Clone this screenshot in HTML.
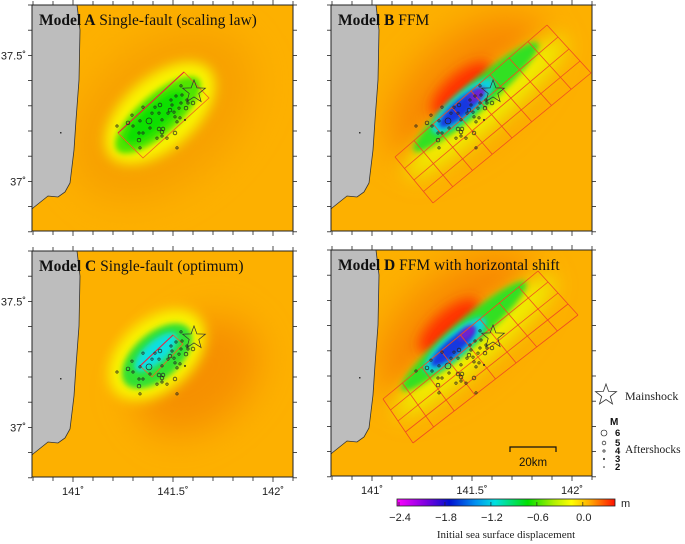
<!DOCTYPE html>
<html><head><meta charset="utf-8"><style>
html,body{margin:0;padding:0;background:#fff;}
svg{display:block;}
.sans{font-family:"Liberation Sans",sans-serif;}
.serif{font-family:"Liberation Serif",serif;}
</style></head><body>
<svg id="fig" width="685" height="544" viewBox="0 0 685 544" xmlns="http://www.w3.org/2000/svg">
<defs>
<filter id="b2" x="-50%" y="-50%" width="200%" height="200%"><feGaussianBlur stdDeviation="2"/></filter>
<filter id="b3" x="-50%" y="-50%" width="200%" height="200%"><feGaussianBlur stdDeviation="3"/></filter>
<filter id="b6" x="-50%" y="-50%" width="200%" height="200%"><feGaussianBlur stdDeviation="6"/></filter>
<filter id="b10" x="-50%" y="-50%" width="200%" height="200%"><feGaussianBlur stdDeviation="10"/></filter>
<filter id="b18" x="-80%" y="-80%" width="260%" height="260%"><feGaussianBlur stdDeviation="18"/></filter>
<clipPath id="pclip"><rect x="0" y="0" width="261" height="226"/></clipPath>
<linearGradient id="cbar" x1="0" x2="1" y1="0" y2="0">
<stop offset="0" stop-color="#ff00ff"/>
<stop offset="0.13" stop-color="#8000e0"/>
<stop offset="0.24" stop-color="#0010d0"/>
<stop offset="0.36" stop-color="#0090f0"/>
<stop offset="0.45" stop-color="#00e0e0"/>
<stop offset="0.6" stop-color="#00e000"/>
<stop offset="0.72" stop-color="#b0f000"/>
<stop offset="0.8" stop-color="#ffff00"/>
<stop offset="0.88" stop-color="#ffb000"/>
<stop offset="1" stop-color="#ff1000"/>
</linearGradient>
</defs>
</svg>
<script>
// ---- data ----
const asLon=[141.220,141.275,141.295,141.300,141.335,141.330,141.350,141.330,141.335,141.380,141.385,141.350,141.395,141.410,141.435,141.430,141.445,141.430,141.450,141.445,141.420,141.445,141.470,141.475,141.485,141.495,141.505,141.510,141.520,141.530,141.535,141.540,141.545,141.510,141.520,141.565,141.575,141.570,141.600,141.540,141.515,141.490,141.560];
const asLat=[37.220,37.232,37.263,37.220,37.240,37.192,37.192,37.164,37.133,37.240,37.212,37.295,37.271,37.295,37.303,37.271,37.244,37.208,37.208,37.196,37.172,37.180,37.172,37.271,37.283,37.303,37.275,37.256,37.236,37.291,37.252,37.311,37.343,37.192,37.133,37.291,37.311,37.323,37.311,37.379,37.339,37.323,37.244];
const asMag=[4,5,4,4,4,4,4,5,4,6,4,4,4,4,5,4,4,5,5,5,4,4,4,4,5,4,4,4,4,4,4,4,4,5,4,5,4,4,5,4,4,4,3];
const mainLon=141.605, mainLat=37.355;
const lonTicks=[141,141.5,142];
const lonLabels=["141˚","141.5˚","142˚"];
const latTicks=[37,37.5];
const latLabels=["37˚","37.5˚"];
const cbTicks=[-2.4,-1.8,-1.2,-0.6,0.0];
const cbLabels=["−2.4","−1.8","−1.2","−0.6","0.0"];
const legendMags=[6,5,4,3,2];

const NS="http://www.w3.org/2000/svg";
const svg=document.getElementById('fig');
function mk(tag,attrs,parent){const e=document.createElementNS(NS,tag);for(const k in attrs)e.setAttribute(k,attrs[k]);(parent||svg).appendChild(e);return e;}
const xOf=lon=>(lon-140.795)*200;
const yOf=lat=>(37.70-lat)*252;
const rOf=m=>0.45*Math.pow(1.6,m-2);
function starPts(cx,cy,R,r){let p=[];for(let i=0;i<10;i++){const a=-Math.PI/2+i*Math.PI/5;const rr=i%2?r:R;p.push((cx+rr*Math.cos(a)).toFixed(1)+','+(cy+rr*Math.sin(a)).toFixed(1));}return p.join(' ');}

const panels=[
 {id:'a',ox:32,oy:5,bold:'Model A',rest:' Single-fault (scaling law)',lonLab:false,
  blobs:[[130,110,105,70,'#f7a000','b18'],[128,108,66,36,'#f8f400','b6'],[126,110,54,20,'#50e400','b3'],[123,112,38,12,'#10e000','b3']],
  rect:[[86,128],[152,67],[177,93],[111,153]],grid:null},
 {id:'b',ox:331,oy:5,bold:'Model B',rest:' FFM',lonLab:false,
  blobs:[[135,82,95,48,'#f88800','b18'],[155,102,105,22,'#f0ee00','b10'],[130,84,38,15,'#ff3000','b6'],[145,92,82,14,'#30e020','b3'],[132,101,40,12,'#10d0e0','b3'],[130,103,28,8,'#1838e0','b2'],[146,90,10,5,'#7020d0','b2']],
  rect:null,grid:[[64,152],[216,20],[260,68],[102,198]]},
 {id:'c',ox:32,oy:251,bold:'Model C',rest:' Single-fault (optimum)',lonLab:true,
  blobs:[[165,125,70,50,'#f69000','b18'],[125,104,56,36,'#f8f400','b6'],[125,105,42,23,'#30e030','b3'],[124,101,27,11,'#10e0e0','b3']],
  rect:[[108,115],[141,84],[151,93],[120,126]],grid:null},
 {id:'d',ox:331,oy:250,bold:'Model D',rest:' FFM with horizontal shift',lonLab:true,
  blobs:[[124,75,95,48,'#f88800','b18'],[144,96,105,22,'#f0ee00','b10'],[118,76,38,15,'#ff3000','b6'],[133,86,82,14,'#30e020','b3'],[124,95,40,12,'#10d0e0','b3'],[122,97,28,8,'#1838e0','b2'],[136,83,10,5,'#7020d0','b2']],
  rect:null,grid:[[52,149],[207,21],[247,65],[82,193]]}
];
const ang=-41;
const land="0,0 45,0 48,25 47,75 44,115 42,145 38,178 33,187 26,192 16,191 11,195 1,203 0,204";

panels.forEach(p=>{
 const g=mk('g',{transform:`translate(${p.ox},${p.oy})`});
 
 
 const inner=mk('g',{'clip-path':'url(#pclip)'},g);
 const bg=mk('rect',{x:0,y:0,width:261,height:226,fill:'#fdb000'},inner);
 
 
 p.blobs.forEach(b=>{
  const e=mk('ellipse',{cx:b[0],cy:b[1],rx:b[2],ry:b[3],fill:b[4],filter:'url(#'+b[5]+')',transform:`rotate(${ang} ${b[0]} ${b[1]})`},inner);
  
  
 });
 const ld=mk('polygon',{points:land,fill:'#bdbdbd',stroke:'#333','stroke-width':0.8},inner);
 
 
 mk('rect',{x:28,y:127,width:1.5,height:1.5,fill:'#333'},inner);
 if(p.rect){
  const r=p.rect;
  const rp=mk('polygon',{points:r.map(q=>q.join(',')).join(' '),fill:'none',stroke:'#f06020','stroke-width':0.8},inner);
  
  
  mk('line',{x1:r[0][0],y1:r[0][1],x2:r[1][0],y2:r[1][1],stroke:'#e82040','stroke-width':1},inner);
 }
 if(p.grid){
  const [L,T,R,B]=p.grid;const nc=8,nr=4;
  const gg=mk('g',{stroke:'#f04a20','stroke-width':0.8,fill:'none'},inner);
  
  
  const lerp=(a,b,t)=>[a[0]+(b[0]-a[0])*t,a[1]+(b[1]-a[1])*t];
  for(let i=0;i<=nc;i++){const a=lerp(L,T,i/nc),b=lerp(B,R,i/nc);mk('line',{x1:a[0],y1:a[1],x2:b[0],y2:b[1]},gg);}
  for(let j=0;j<=nr;j++){const a=lerp(L,B,j/nr),b=lerp(T,R,j/nr);mk('line',{x1:a[0],y1:a[1],x2:b[0],y2:b[1]},gg);}
 }
 const ag=mk('g',{fill:'none',stroke:'#222','stroke-width':0.7},inner);
 
 
 for(let i=0;i<asLon.length;i++){
  const c=mk('circle',{cx:xOf(asLon[i]).toFixed(1),cy:yOf(asLat[i]).toFixed(1),r:rOf(asMag[i]).toFixed(2)},ag);
  
  
 }
 const st=mk('polygon',{points:starPts(xOf(mainLon),yOf(mainLat),12,5),fill:'none',stroke:'#333','stroke-width':0.7},inner);
 
 
 const fr=mk('rect',{x:0,y:0,width:261,height:226,fill:'none',stroke:'#222','stroke-width':1},g);
 
 
 const tg=mk('g',{stroke:'#222','stroke-width':0.8},g);
 
 
 for(let k=0;k<=13;k++){const x=xOf(140.8+k*0.1);const L=(k%5==2)?5:4;
  mk('line',{x1:x,y1:0,x2:x,y2:-L},tg);mk('line',{x1:x,y1:226,x2:x,y2:226+L},tg);}
 for(let k=0;k<=9;k++){const y=yOf(36.8+k*0.1);
  mk('line',{x1:0,y1:y,x2:-4,y2:y},tg);mk('line',{x1:261,y1:y,x2:265,y2:y},tg);}
 if(p.lonLab){lonTicks.forEach((v,i)=>{const t=mk('text',{x:xOf(v),y:244,'text-anchor':'middle','font-size':11,class:'sans',fill:'#222'},g);t.textContent=lonLabels[i];
  });}
 if(p.id==='a'||p.id==='c'){latTicks.forEach((v,i)=>{const t=mk('text',{x:-6,y:yOf(v)+4,'text-anchor':'end','font-size':11,class:'sans',fill:'#222'},g);t.textContent=latLabels[i];
  });}
 const tt=mk('text',{x:7,y:20,'font-size':15.5,class:'serif',fill:'#111'},g);
 
 
 const tb=mk('tspan',{'font-weight':'bold'},tt);tb.textContent=p.bold;
 const tr=mk('tspan',{},tt);tr.textContent=p.rest;
});

// scale bar
const sb=mk('g',{stroke:'#111','stroke-width':1.2,fill:'none'});


mk('polyline',{points:'510,452 510,447 556,447 556,452'},sb);
const sbt=mk('text',{x:533,y:466,'text-anchor':'middle','font-size':11.5,class:'sans',fill:'#111'});
sbt.textContent='20km';



// legend
const lg=mk('g',{});


mk('polygon',{points:starPts(606,395,11,4.5),fill:'none',stroke:'#333','stroke-width':0.8},lg);
const lm=mk('text',{x:625,y:400,'font-size':12,class:'serif',fill:'#222'},lg);lm.textContent='Mainshock';
const lM=mk('text',{x:610,y:425,'font-size':10,'font-weight':'bold',class:'sans',fill:'#111'},lg);lM.textContent='M';
const legY=[433,443,451,459,467];
legendMags.forEach((m,i)=>{
 const c=mk('circle',{cx:604,cy:legY[i],r:rOf(m).toFixed(2),fill:'none',stroke:'#222','stroke-width':0.7},lg);
 
 
 const t=mk('text',{x:615,y:legY[i]+3,'font-size':9.5,'font-weight':'bold',class:'sans',fill:'#111'},lg);t.textContent=String(m);
});
const la=mk('text',{x:625,y:453,'font-size':11.5,class:'serif',fill:'#222'},lg);la.textContent='Aftershocks';

// colorbar
const cbX0=399,cbX1=615;const cbV0=-2.4,cbV1=0.42;
const cx=v=>cbX0+(v-cbV0)/(cbV1-cbV0)*(cbX1-cbX0);
const cb=mk('g',{});


mk('rect',{x:cbX0-2,y:499,width:cbX1-cbX0+2,height:7,fill:'url(#cbar)',stroke:'#222','stroke-width':0.8},cb);
cbTicks.forEach((v,i)=>{
 mk('line',{x1:cx(v),y1:506,x2:cx(v),y2:502,stroke:'#222','stroke-width':0.7},cb);
 const t=mk('text',{x:cx(v)+1,y:521,'text-anchor':'middle','font-size':11,class:'sans',fill:'#222'},cb);t.textContent=cbLabels[i];
 
});
const cm=mk('text',{x:621,y:507,'font-size':11,class:'sans',fill:'#222'},cb);cm.textContent='m';
const ct=mk('text',{x:506,y:538,'text-anchor':'middle','font-size':11,class:'serif',fill:'#222'},cb);ct.textContent='Initial sea surface displacement';

</script>
</body></html>
